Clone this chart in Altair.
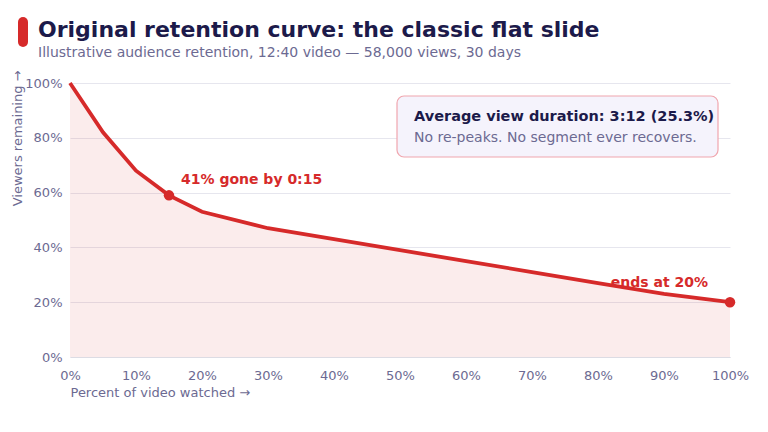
import altair as alt
import pandas as pd

## retention curve (percent of video vs viewers left)
pct_watched = [0, 5, 10, 15, 20, 30, 40, 50, 60, 70, 80, 90, 100]
viewers_left = [100, 82, 68, 59, 53, 47, 43, 39, 35, 31, 27, 23, 20]

## the two highlighted points and their notes
mark_pct = [15, 100]
mark_val = [59, 20]
mark_note = ['41% gone by 0:15', 'ends at 20%']

box_lines = ['Average view duration: 3:12 (25.3%)',
             'No re-peaks. No segment ever recovers.']

RED = '#d62a2a'
INK = '#1c1a4a'
MUTED = '#6c6a92'
FONT = 'DejaVu Sans'

curve = pd.DataFrame({'x': pct_watched, 'y': viewers_left})
marks = pd.DataFrame({'x': mark_pct, 'y': mark_val, 'note': mark_note})

xs = alt.Scale(domain=[0, 100], nice=False)
ys = alt.Scale(domain=[0, 100], nice=False)

base = alt.Chart(curve).encode(
    x=alt.X('x:Q', scale=xs,
            axis=alt.Axis(values=list(range(0, 101, 10)),
                          labelExpr="datum.value + '%'", labelFlush=False,
                          title='Percent of video watched →',
                          titleAnchor='start', titleFontWeight='normal',
                          titlePadding=4, grid=False, ticks=False,
                          domainColor='#dcdce4', labelPadding=12)),
    y=alt.Y('y:Q', scale=ys,
            axis=alt.Axis(values=list(range(0, 101, 20)),
                          labelExpr="datum.value + '%'",
                          title='Viewers remaining →',
                          titleAnchor='end', titleFontWeight='normal',
                          titleX=-53, titleY=-13, titleAlign='right',
                          titleBaseline='middle', titleAngle=270,
                          domain=False, ticks=False, labelPadding=8)),
)

area = base.mark_area(color=RED, opacity=0.09)
line = base.mark_line(color=RED, strokeWidth=3.8)

dots = alt.Chart(marks).mark_circle(color=RED, size=110, opacity=1).encode(
    x=alt.X('x:Q', scale=xs), y=alt.Y('y:Q', scale=ys))

first_note = alt.Chart(marks.iloc[[0]]).mark_text(
    align='left', dx=12, dy=-15, color=RED, fontWeight='bold', fontSize=14,
    font=FONT).encode(x=alt.X('x:Q', scale=xs), y=alt.Y('y:Q', scale=ys),
                      text='note:N')
last_note = alt.Chart(marks.iloc[[1]]).mark_text(
    align='right', dx=-22, dy=-19, color=RED, fontWeight='bold', fontSize=14,
    font=FONT).encode(x=alt.X('x:Q', scale=xs), y=alt.Y('y:Q', scale=ys),
                      text='note:N')

## callout box in the upper right
box = alt.Chart(curve.iloc[[0]]).mark_rect(
    fill='#f5f3fc', stroke='#f0a6ae', strokeWidth=1.2, cornerRadius=7
).encode(x=alt.value(327), x2=alt.value(648), y=alt.value(13), y2=alt.value(74))
box_head = alt.Chart(curve.iloc[[0]]).mark_text(
    align='left', baseline='middle', fontWeight='bold', fontSize=14.5,
    color=INK, font=FONT, text=box_lines[0]
).encode(x=alt.value(344), y=alt.value(34))
box_sub = alt.Chart(curve.iloc[[0]]).mark_text(
    align='left', baseline='middle', fontSize=14, color=MUTED, font=FONT,
    text=box_lines[1]
).encode(x=alt.value(344), y=alt.value(55))

## red accent bar next to the title
accent = alt.Chart(curve.iloc[[0]]).mark_rule(
    color=RED, strokeWidth=10, strokeCap='round'
).encode(x=alt.value(-47), y=alt.value(-61), y2=alt.value(-41))

chart = (area + line + dots + first_note + last_note + box + box_head
         + box_sub + accent).properties(
    width=660, height=274,
    title=alt.TitleParams(
        'Original retention curve: the classic flat slide',
        subtitle='Illustrative audience retention, 12:40 video — 58,000 views, 30 days',
        anchor='start', frame='group', offset=-44, dx=-32,
        fontSize=22, font=FONT, color=INK, fontWeight='bold',
        subtitleFont=FONT, subtitleFontSize=14, subtitleColor=MUTED,
        subtitlePadding=4),
    padding={'left': 3, 'top': 9, 'right': 5, 'bottom': 5},
).configure_axis(
    labelFont=FONT, titleFont=FONT, labelFontSize=13, titleFontSize=13,
    labelColor=MUTED, titleColor=MUTED, gridColor='#e6e6ee'
).configure_view(stroke=None)

chart.save('out.html', embed_options={'renderer': 'svg', 'actions': False})
